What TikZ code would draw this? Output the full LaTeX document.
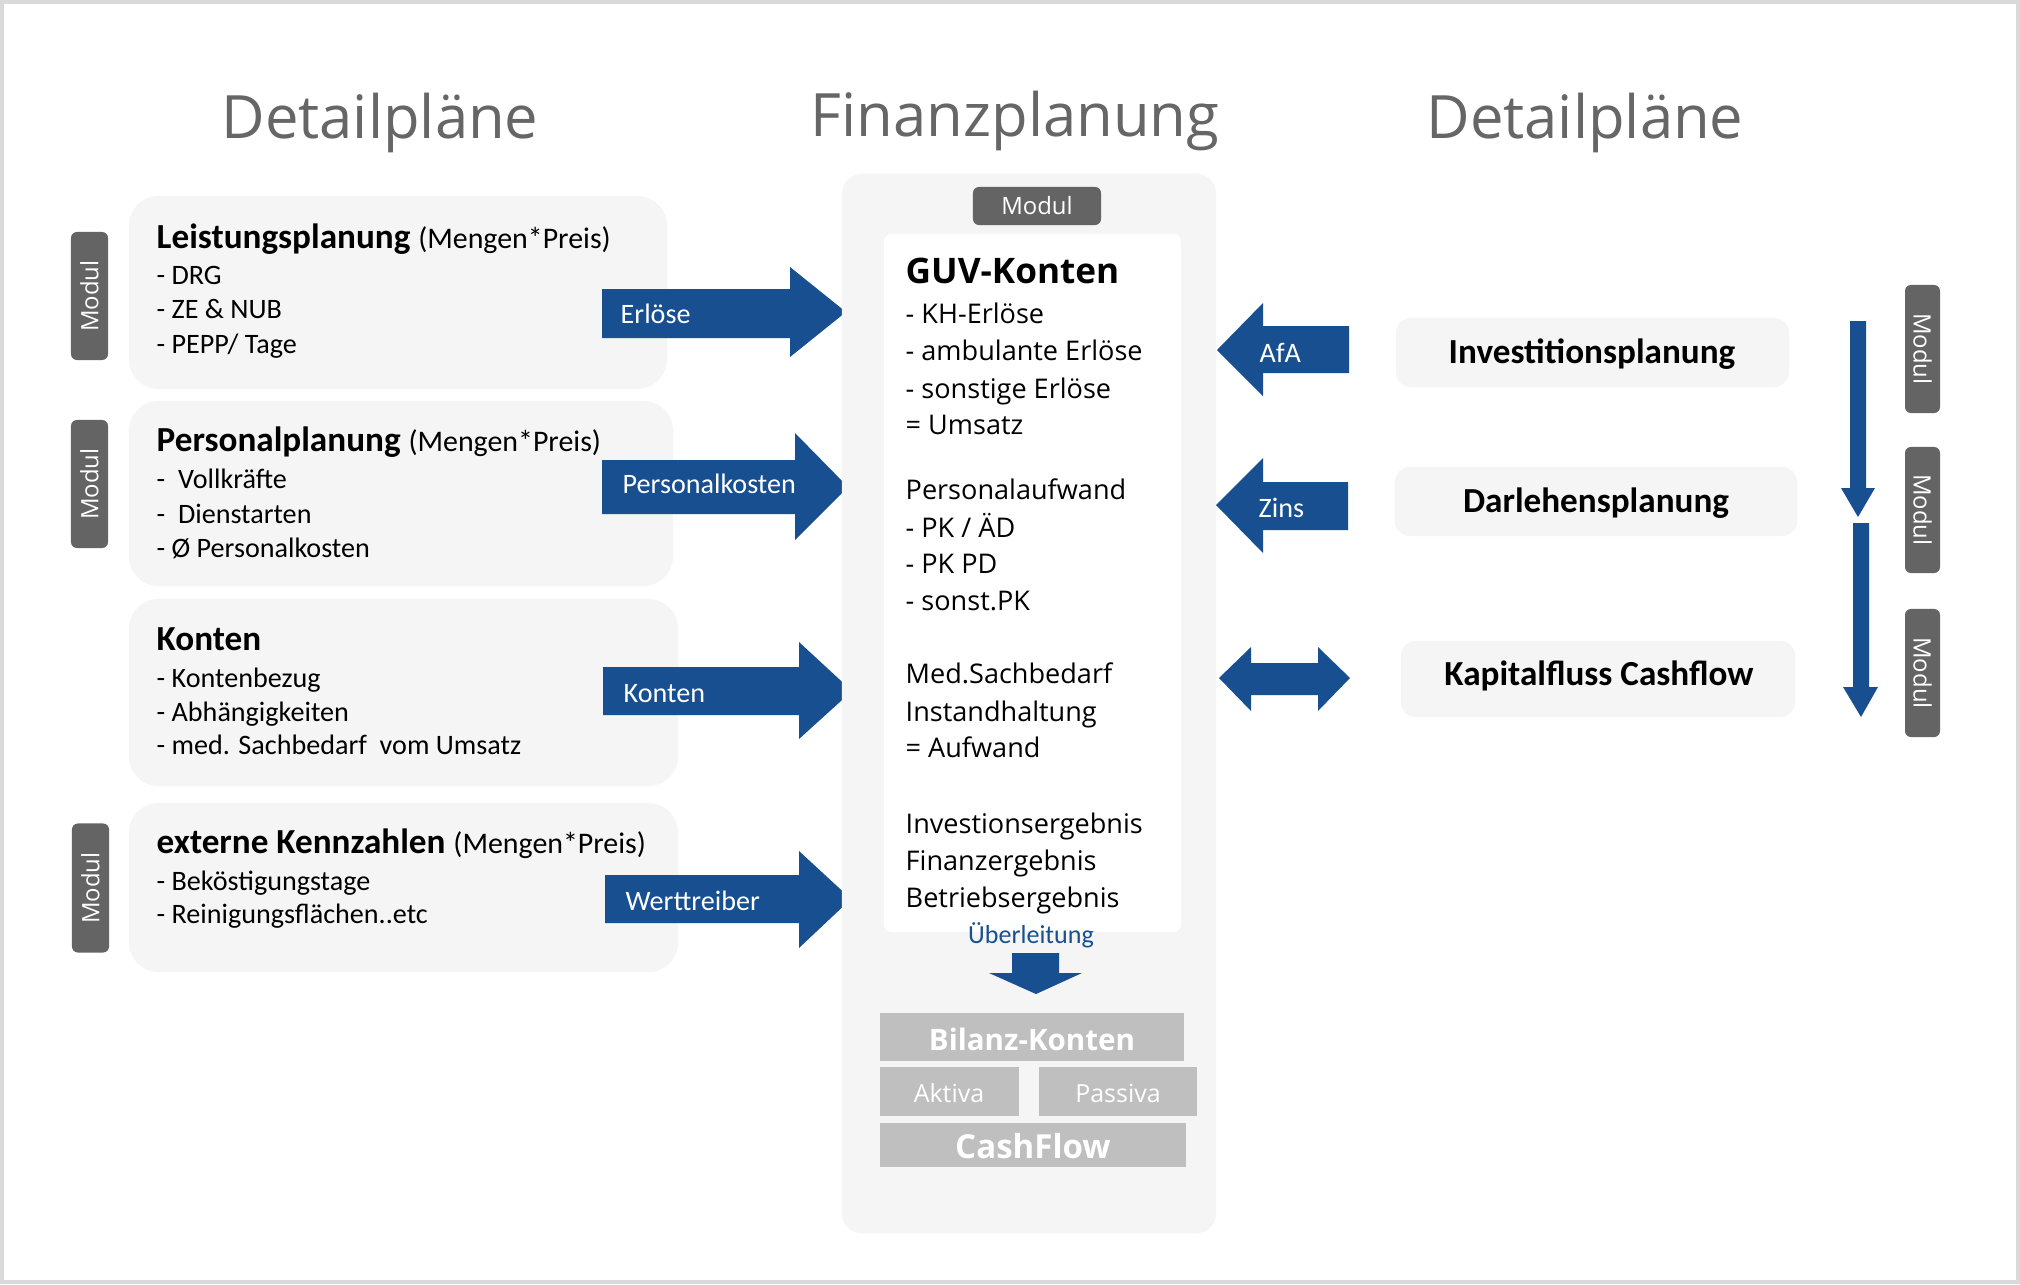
\documentclass[tikz,border=0pt]{standalone}
\usepackage{fontspec}
\setmainfont{Carlito}
\newfontfamily\osans{Open Sans}
\definecolor{blu}{RGB}{24,79,145}
\definecolor{tabgray}{RGB}{100,100,100}
\definecolor{boxbg}{RGB}{245,245,245}
\definecolor{bil}{RGB}{191,191,191}
\definecolor{titlegray}{RGB}{102,102,102}
\definecolor{framegray}{RGB}{217,217,217}
\tikzset{
  lbox/.style={fill=boxbg, rounded corners=0.3cm, inner sep=0, minimum width=5.45cm},
  rbox/.style={fill=boxbg, rounded corners=0.15cm, inner sep=0},
  tabbox/.style={fill=tabgray, rounded corners=0.06cm, inner sep=0, text=white,
     font=\osans\fontsize{6.8}{8}\selectfont},
  txt/.style={inner sep=0, anchor=base west},
  itm/.style={txt, font=\fontsize{8}{9}\selectfont},
  hd/.style={txt, font=\fontsize{10}{12}\selectfont},
  gitm/.style={txt, font=\osans\fontsize{7.7}{9}\selectfont},
  ghd/.style={txt, font=\osans\bfseries\fontsize{10}{12}\selectfont},
  ttl/.style={inner sep=0, anchor=base, text=titlegray, font=\osans\fontsize{17}{20}\selectfont},
  arrlbl/.style={txt, text=white, font=\fontsize{8}{9}\selectfont},
  blockarrow/.style={fill=blu},
  bilbox/.style={fill=bil, inner sep=0},
  rtxt/.style={inner sep=0, anchor=base, font=\bfseries\fontsize{10}{12}\selectfont},
}
\newcommand{\mengenpreis}{{\fontsize{8.5}{10}\selectfont\mdseries (Mengen*Preis)}}
\begin{document}
\begin{tikzpicture}[x=0.01cm,y=-0.01cm]
\useasboundingbox (0,0) rectangle (2020,1284);
\fill[white] (0,0) rectangle (2020,1284);
\draw[framegray, line width=1.2pt] (2,2) rectangle (2018,1282);

% titles
\node[ttl] (t1) at (380,138) {Detailpläne};
\node[ttl] (t2) at (1015,136) {Finanzplanung};
\node[ttl] (t3) at (1585,138) {Detailpläne};

% left boxes
\node[lbox, minimum width=5.38cm, minimum height=1.93cm] (b1) at (398,292.5) {};
\node[lbox, minimum width=5.44cm, minimum height=1.85cm] (b2) at (401,493.5) {};
\node[lbox, minimum width=5.49cm, minimum height=1.87cm] (b3) at (403.5,692.5) {};
\node[lbox, minimum width=5.49cm, minimum height=1.69cm] (b4) at (403.5,887.5) {};

% left tabs
\node[tabbox, rotate=90, minimum width=1.28cm, minimum height=0.37cm] (m1) at (89.5,296) {Modul};
\node[tabbox, rotate=90, minimum width=1.28cm, minimum height=0.37cm] (m2) at (89.5,484) {Modul};
\node[tabbox, rotate=90, minimum width=1.29cm, minimum height=0.37cm] (m4) at (90.5,888) {Modul};

% box 1 text
\node[hd] (h1) at (156,248) {\textbf{Leistungsplanung} \mengenpreis};
\node[itm] (i11) at (156,284) {- DRG};
\node[itm] (i12) at (156,318) {- ZE \& NUB};
\node[itm] (i13) at (156,353) {- PEPP/ Tage};
% box 2
\node[hd] (h2) at (156,451) {\textbf{Personalplanung} \mengenpreis};
\node[itm] (i21) at (156,488) {-\ \ Vollkräfte};
\node[itm] (i22) at (156,523) {-\ \ Dienstarten};
\node[itm] (i23) at (156,557) {- Ø Personalkosten};
% box 3
\node[hd] (h3) at (156,650) {\textbf{Konten}};
\node[itm] (i31) at (156,687) {- Kontenbezug};
\node[itm] (i32) at (156,721) {- Abhängigkeiten};
\node[itm] (i33) at (156,754) {- med. Sachbedarf\ \ vom Umsatz};
% box 4
\node[hd] (h4) at (156,853) {\textbf{externe Kennzahlen} \mengenpreis};
\node[itm] (i41) at (156,890) {- Beköstigungstage};
\node[itm] (i42) at (156,923) {- Reinigungsflächen..etc};

% left block arrows
\fill[blockarrow] (602,289) -- (790,289) -- (790,267) -- (846,312) -- (790,357) -- (790,338) -- (602,338) -- cycle;
\fill[blockarrow] (602,460) -- (795,460) -- (795,433) -- (848,487) -- (795,540) -- (795,514) -- (602,514) -- cycle;
\fill[blockarrow] (603,667) -- (799,667) -- (799,642) -- (852,691) -- (799,739) -- (799,715) -- (603,715) -- cycle;
\fill[blockarrow] (605,875) -- (799,875) -- (799,851) -- (851,899) -- (799,948) -- (799,923) -- (605,923) -- cycle;
\node[arrlbl] (a1) at (620,323) {Erlöse};
\node[arrlbl] (a2) at (622,493) {Personalkosten};
\node[arrlbl] (a3) at (623,702) {Konten};
\node[arrlbl] (a4) at (625,910) {Werttreiber};

% central panel
\node[fill=boxbg, rounded corners=0.2cm, inner sep=0, minimum width=3.74cm, minimum height=10.59cm] (panel) at (1029,703.5) {};
\node[fill=white, rounded corners=0.08cm, inner sep=0, minimum width=2.97cm, minimum height=6.98cm] (guv) at (1032.5,583) {};
\node[tabbox, minimum width=1.28cm, minimum height=0.38cm] (mtop) at (1037,206) {Modul};

\node[ghd] (g0) at (905,283) {GUV-Konten};
\node[gitm] (g1) at (905,323) {- KH-Erlöse};
\node[gitm] (g2) at (905,360) {- ambulante Erlöse};
\node[gitm] (g3) at (905,398) {- sonstige Erlöse};
\node[gitm] (g4) at (905,434) {= Umsatz};
\node[gitm] (g5) at (905,499) {Personalaufwand};
\node[gitm] (g6) at (905,537) {- PK / ÄD};
\node[gitm] (g7) at (905,573) {- PK PD};
\node[gitm] (g8) at (905,610) {- sonst.PK};
\node[gitm] (g9) at (905,683) {Med.Sachbedarf};
\node[gitm] (g10) at (905,721) {Instandhaltung};
\node[gitm] (g11) at (905,757) {= Aufwand};
\node[gitm] (g12) at (905,833) {Investionsergebnis};
\node[gitm] (g13) at (905,870) {Finanzergebnis};
\node[gitm] (g14) at (905,907) {Betriebsergebnis};

\node[inner sep=0, anchor=base, text=blu, font=\fontsize{7.4}{9}\selectfont] (ueb) at (1031,943) {Überleitung};
\fill[blockarrow] (1012,953) -- (1059,953) -- (1059,973) -- (1082,973) -- (1036,994) -- (989,973) -- (1012,973) -- cycle;

\node[bilbox, minimum width=3.04cm, minimum height=0.48cm] (bil) at (1032,1037) {};
\node[bilbox, minimum width=1.39cm, minimum height=0.49cm] (akt) at (949.5,1091.5) {};
\node[bilbox, minimum width=1.58cm, minimum height=0.49cm] (pas) at (1118,1091.5) {};
\node[bilbox, minimum width=3.06cm, minimum height=0.44cm] (cf) at (1033,1145) {};
\node[inner sep=0, anchor=base, text=white, font=\osans\bfseries\fontsize{8.4}{10}\selectfont] (bilt) at (1032,1050) {Bilanz-Konten};
\node[inner sep=0, anchor=base, text=white, font=\osans\fontsize{7.1}{9}\selectfont] (aktt) at (949,1102) {Aktiva};
\node[inner sep=0, anchor=base, text=white, font=\osans\fontsize{7.1}{9}\selectfont] (past) at (1118,1102) {Passiva};
\node[inner sep=0, anchor=base, text=white, font=\osans\bfseries\fontsize{9.4}{11}\selectfont] (cft) at (1033,1158) {CashFlow};

% right side arrows
\fill[blockarrow] (1349,326) -- (1263,326) -- (1263,303) -- (1217,350) -- (1263,396) -- (1263,373) -- (1349,373) -- cycle;
\fill[blockarrow] (1348,482) -- (1263,482) -- (1263,458) -- (1216,505) -- (1263,553) -- (1263,530) -- (1348,530) -- cycle;
\fill[blockarrow] (1219,678) -- (1251,647) -- (1251,663) -- (1318,663) -- (1318,647) -- (1350,678) -- (1318,711) -- (1318,695) -- (1251,695) -- (1251,711) -- cycle;
\node[arrlbl] (afa) at (1259,362) {AfA};
\node[arrlbl] (zins) at (1258,517) {Zins};

% right boxes
\node[rbox, minimum width=3.93cm, minimum height=0.69cm] (inv) at (1592.5,352.5) {};
\node[rbox, minimum width=4.02cm, minimum height=0.69cm] (dar) at (1596,501.5) {};
\node[rbox, minimum width=3.94cm, minimum height=0.76cm] (kap) at (1598,679) {};
\node[rtxt] (invt) at (1592,363) {Investitionsplanung};
\node[rtxt] (dart) at (1596,512) {Darlehensplanung};
\node[rtxt] (kapt) at (1599,685) {Kapitalfluss Cashflow};

% right down arrows
\fill[blockarrow] (1850,321) -- (1866,321) -- (1866,488) -- (1875,488) -- (1858,517) -- (1841,488) -- (1850,488) -- cycle;
\fill[blockarrow] (1853,523) -- (1869,523) -- (1869,687) -- (1878,687) -- (1861,717) -- (1843,687) -- (1853,687) -- cycle;

% right tabs
\node[tabbox, rotate=-90, minimum width=1.28cm, minimum height=0.35cm] (r1) at (1922.5,349) {Modul};
\node[tabbox, rotate=-90, minimum width=1.26cm, minimum height=0.35cm] (r2) at (1922.5,510) {Modul};
\node[tabbox, rotate=-90, minimum width=1.28cm, minimum height=0.35cm] (r3) at (1922.5,673) {Modul};
\end{tikzpicture}
\end{document}
